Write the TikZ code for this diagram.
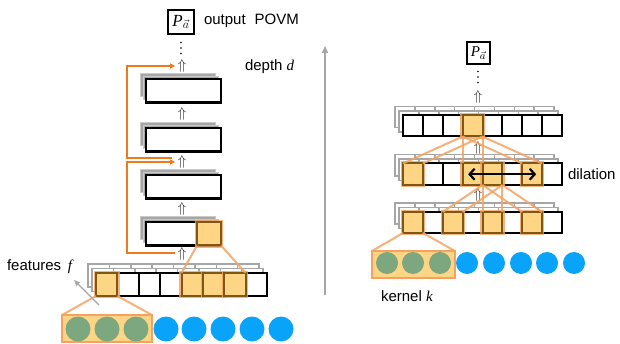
\documentclass[tikz,border=0pt]{standalone}
\usepackage{fontspec}
\setmainfont{Liberation Sans}
\newfontfamily\serifit{Liberation Serif}
\usetikzlibrary{arrows.meta}

\definecolor{hotfill}{HTML}{FDD584}
\definecolor{hotedge}{HTML}{7F5715}
\definecolor{fanline}{HTML}{F4A261}
\definecolor{skipline}{HTML}{EE7A1E}
\definecolor{leaf}{HTML}{7DA77F}
\definecolor{sky}{HTML}{0AA3FA}
\definecolor{ghost}{HTML}{A6A6A6}

\newcommand\varit[1]{{\serifit\itshape #1}}

% a row of eight cells with two stacked feature copies behind it
% #1 name prefix, #2 left x, #3 top y, #4 cell width, #5 cell height
\newcommand\cellrow[5]{%
  \foreach \dx/\dy in {-8/-9,-4/-4.5}{
    \foreach \i in {1,...,8}{
      \draw[ghostcell] ({#2+\dx+(\i-1)*#4},{#3+\dy}) rectangle ++(#4,#5);
    }
  }
  \foreach \i in {1,...,8}{
    \node[cellbox, minimum width=#4pt, minimum height=#5pt, anchor=north west]
      (#1\i) at ({#2+(\i-1)*#4},#3) {};
  }
}

% three vertical dots centred at (#1,#2)
\newcommand\vdotsat[2]{%
  \foreach \k in {-1,0,1}{\fill (#1,{#2+5.5*\k}) circle (0.9);}
}

\begin{document}
\begin{tikzpicture}[x=1pt,y=-1pt,
  every node/.style={inner sep=0pt, outer sep=0pt},
  cellbox/.style={draw=black, line width=2pt, fill=white},
  ghostcell/.style={draw=ghost, line width=1.5pt, fill=white},
  ghostslab/.style={draw=ghost!60, line width=0.8pt, fill=ghost},
  blockbox/.style={draw=black, line width=2.4pt, fill=white, minimum width=75pt, minimum height=23.5pt},
  hotcell/.style={preaction={draw=fanline, line width=4.5pt, opacity=.8}, fill=hotfill, draw=hotedge, line width=2pt},
  kernbox/.style={fill=hotfill, draw=fanline, line width=2pt},
  fan/.style={draw=fanline, line width=2pt, opacity=.85},
  skip/.style={draw=skipline, line width=1.2pt, -{Triangle[length=5pt,width=5pt]}, shorten >=1.5pt},
  uparr/.style={font=\fontsize{14}{14}\selectfont, text=black!85, inner sep=1pt},
  povm/.style={draw=black, line width=2.2pt, fill=white},
  words/.style={font=\fontsize{15}{18}\selectfont, anchor=west},
  leafdot/.style={circle, fill=leaf},
  skydot/.style={circle, fill=sky},
  axis/.style={draw=ghost, line width=1.5pt, -{Triangle[length=7pt,width=6pt]}},
]
\useasboundingbox (0,0) rectangle (620,344);

% ---------------- left: stacked network ----------------
\node[povm, minimum width=26pt, minimum height=24pt] (PL) at (181,22)
  {\fontsize{17}{17}\selectfont\varit{P}$_{\vec a}$};
\node[words] (outl) at (204,21) {output\hspace{0.6em}POVM};
\vdotsat{181}{48}

\node[uparr] (U1) at (182,66) {$\Uparrow$};
\node[uparr] (U2) at (182,114) {$\Uparrow$};
\node[uparr] (U3) at (182,162) {$\Uparrow$};
\node[uparr] (U4) at (182,209) {$\Uparrow$};
\node[uparr] (U5) at (182,254) {$\Uparrow$};

\foreach \nm/\yy in {B1/79,B2/128,B3/175,B4/222}{
  \draw[ghostslab] (140,\yy-6) rectangle ++(75,23.5);
  \draw[ghostslab] (143,\yy-3) rectangle ++(75,23.5);
  \node[blockbox, anchor=north west] (\nm) at (146,\yy) {};
}
\node[hotcell, minimum width=24pt, minimum height=23.5pt, anchor=north east] (B4h) at (B4.north east) {};

\node[words] (depth) at (245,67) {depth \varit{d}};

% skip connections
\coordinate (rail) at (127,0);
\coordinate (s1) at (172,158);
\coordinate (s2) at (175,253);
\draw[skip] (s1) -- (s1 -| rail) |- (U1.west);
\draw[skip] (s2) -- (s2 -| rail) |- (U3.west);

% input feature row
\cellrow{L}{96}{273}{21.375}{23}
\foreach \k in {1,5,6,7}{
  \path[hotcell] (L\k.north west) rectangle (L\k.south east);
}

% input qubits
\node[kernbox, minimum width=90pt, minimum height=27pt] (GB1) at (107,328.5) {};
\foreach \i/\x in {1/78,2/107,3/136}{
  \node[leafdot, minimum size=25pt] (gl\i) at (\x,329) {};
}
\foreach \i/\x in {1/166,2/194,3/223,4/252,5/281}{
  \node[skydot, minimum size=25pt] (bl\i) at (\x,329) {};
}

\draw[fan] (B4h.south west) -- (L5.north west);
\draw[fan] (B4h.south east) -- (L7.north east);
\draw[fan] (L1.south west) -- (GB1.north west);
\draw[fan] (L1.south east) -- (GB1.north east);

\node[words] (feat) at (7,267) {features\hspace{0.45em}\varit{f}};
\coordinate (fa) at (99,305);
\coordinate (fb) at (74,280);
\draw[ghost, line width=1.3pt, -{Triangle[length=6pt,width=5pt]}] (fa) -- (fb);

% divider axis
\coordinate (ax0) at (325,295);
\coordinate (ax1) at (325,46);
\draw[axis] (ax0) -- (ax1);

% ---------------- right: dilated convolutions ----------------
\node[povm, minimum width=23pt, minimum height=22pt] (PR) at (478.5,53)
  {\fontsize{15}{15}\selectfont\varit{P}$_{\vec a}$};
\vdotsat{478}{77}
\node[uparr] (V1) at (478,97) {$\Uparrow$};
\node[uparr] (V2) at (478,148) {$\Uparrow$};
\node[uparr] (V3) at (478,195) {$\Uparrow$};

\cellrow{T}{403}{115.5}{19.875}{21}
\cellrow{M}{403}{163.5}{19.875}{21.5}
\cellrow{Q}{403}{212}{19.875}{21}

\path[hotcell] (T4.north west) rectangle (T4.south east);
\foreach \k in {1,4,5,7}{
  \path[hotcell] (M\k.north west) rectangle (M\k.south east);
}
\foreach \k in {1,3,5,7}{
  \path[hotcell] (Q\k.north west) rectangle (Q\k.south east);
}

\node[kernbox, minimum width=83pt, minimum height=27pt] (GB2) at (413.5,264.5) {};
\foreach \i/\x in {1/387,2/413,3/440}{
  \node[leafdot, minimum size=22pt] (gr\i) at (\x,263) {};
}
\foreach \i/\x in {1/467,2/494,3/521,4/547,5/574}{
  \node[skydot, minimum size=22pt] (br\i) at (\x,263) {};
}

\foreach \k in {1,4,7}{
  \draw[fan] (T4.south west) -- (M\k.north west);
  \draw[fan] (T4.south east) -- (M\k.north east);
}
\foreach \k in {3,5,7}{
  \draw[fan] (M5.south west) -- (Q\k.north west);
  \draw[fan] (M5.south east) -- (Q\k.north east);
}
\draw[fan] (Q1.south west) -- (GB2.north west);
\draw[fan] (Q1.south east) -- (GB2.north east);

\draw[line width=2.2pt, {Straight Barb[length=5pt,width=11pt]}-{Straight Barb[length=5pt,width=11pt]}]
  ([xshift=-4.5pt]M4.center) -- ([xshift=4pt]M7.center);

\node[words] (dil) at (568,174) {dilation};
\node[words] (kern) at (381,296) {kernel \varit{k}};
\end{tikzpicture}
\end{document}
